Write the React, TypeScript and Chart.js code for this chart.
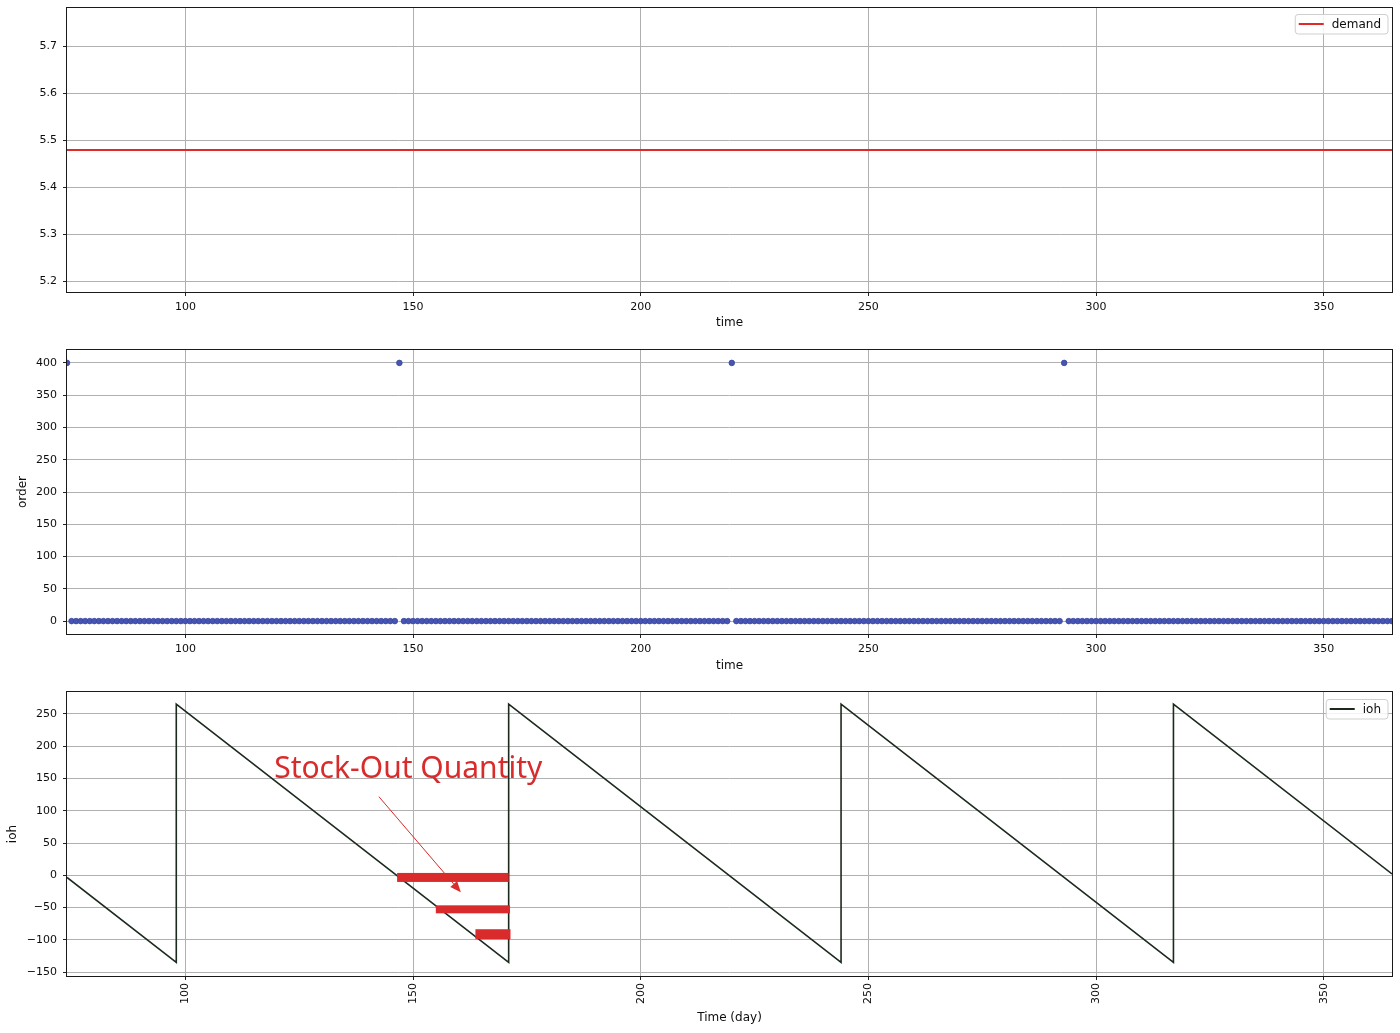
import React, { useEffect, useRef } from "react";
import { Chart, registerables } from "chart.js";

Chart.register(...registerables);
Chart.defaults.font.family = "'DejaVu Sans', sans-serif";

// ---------- data ----------
const dayMin = 74;
const dayMax = 365;
const xTickValues = [100, 150, 200, 250, 300, 350];

const demandDays = [74, 365];
const demandValues = [5.4795, 5.4795];
const demandTicks = [5.2, 5.3, 5.4, 5.5, 5.6, 5.7];

// order is 0 on every day except these
const orderDays = [74, 147, 220, 293];
const orderQuantities = [400, 400, 400, 400];
const orderTicks = [0, 50, 100, 150, 200, 250, 300, 350, 400];

const iohDays = [74, 98, 98, 171, 171, 244, 244, 317, 317, 365];
const iohValues = [-3.3, -134.8, 265.2, -134.8, 265.2, -134.8, 265.2, -134.8, 265.2, 2.2];
const iohTicks = [-150, -100, -50, 0, 50, 100, 150, 200, 250];

const stockOutLabel = "Stock-Out Quantity";
const stockOutBarFrom = [146.5, 155, 163.7];
const stockOutBarTo = [171, 171.3, 171.4];
const stockOutBarLevel = [-3.3, -52.7, -91.3];

// ---------- helpers ----------
const GRID = "#b0b0b0";
const TEXT = "#0d0d0d";

const allDays: number[] = [];
for (let d = dayMin; d <= dayMax; d++) allDays.push(d);
const orderPoints = allDays.map((d) => {
  const i = orderDays.indexOf(d);
  return { x: d, y: i >= 0 ? orderQuantities[i] : 0 };
});

function xScale(titleText: string, titlePad: number, axisH: number, rotate: boolean) {
  return {
    type: "linear",
    min: dayMin,
    max: dayMax,
    afterBuildTicks: (s: any) => {
      s.ticks = xTickValues.map((v) => ({ value: v }));
    },
    afterFit: (s: any) => {
      s.height = axisH;
      s.paddingLeft = 0;
      s.paddingRight = 0;
    },
    grid: { color: GRID, lineWidth: 1, tickColor: "#222", tickLength: 4, drawTicks: true },
    border: { display: false },
    ticks: {
      color: TEXT,
      font: { size: 11 },
      padding: rotate ? 3 : 5,
      autoSkip: false,
      maxRotation: rotate ? 90 : 0,
      minRotation: rotate ? 90 : 0,
      callback: (v: any) => String(v),
    },
    title: {
      display: true,
      text: titleText,
      color: TEXT,
      font: { size: 12 },
      padding: { top: 0, bottom: titlePad },
    },
  };
}

function yScale(
  min: number,
  max: number,
  ticks: number[],
  fmt: (v: number) => string,
  titleText: string | null,
  titlePad: number
) {
  return {
    type: "linear",
    min,
    max,
    afterBuildTicks: (s: any) => {
      s.ticks = ticks.map((v) => ({ value: v }));
    },
    afterFit: (s: any) => {
      s.width = 67;
      s.paddingTop = 0;
      s.paddingBottom = 0;
    },
    grid: { color: GRID, lineWidth: 1, tickColor: "#222", tickLength: 4, drawTicks: true },
    border: { display: false },
    ticks: { color: TEXT, font: { size: 11 }, padding: 6, callback: (v: any) => fmt(Number(v)) },
    title: titleText
      ? {
          display: true,
          text: titleText,
          color: TEXT,
          font: { size: 12 },
          padding: { top: titlePad, bottom: 0 },
        }
      : { display: false },
  };
}

const framePlugin = {
  id: "frame",
  afterDatasetsDraw(chart: any) {
    const { ctx, chartArea: a } = chart;
    ctx.save();
    ctx.strokeStyle = "#1a1a1a";
    ctx.lineWidth = 1;
    ctx.strokeRect(a.left - 0.5, a.top - 0.5, a.right - a.left + 1, a.bottom - a.top + 1);
    ctx.restore();
  },
};

function legendPlugin(offsetTop: number) {
  return {
    id: "miniLegend",
    afterDraw(chart: any) {
      const { ctx, chartArea: a } = chart;
      const ds = chart.data.datasets[0];
      ctx.save();
      ctx.font = "12px 'DejaVu Sans', sans-serif";
      const tw = ctx.measureText(ds.label).width;
      const w = 4 + 25 + 8 + tw + 7;
      const h = 20;
      const x0 = a.right - 4 - w;
      const y0 = a.top + offsetTop;
      ctx.fillStyle = "rgba(255,255,255,0.85)";
      ctx.strokeStyle = "#cfcfcf";
      ctx.lineWidth = 1;
      ctx.beginPath();
      const r = 3;
      ctx.moveTo(x0 + r, y0 + 0.5);
      ctx.arcTo(x0 + w, y0 + 0.5, x0 + w, y0 + h, r);
      ctx.arcTo(x0 + w, y0 + h, x0, y0 + h, r);
      ctx.arcTo(x0 + 0.5, y0 + h, x0 + 0.5, y0, r);
      ctx.arcTo(x0 + 0.5, y0 + 0.5, x0 + w, y0 + 0.5, r);
      ctx.closePath();
      ctx.fill();
      ctx.stroke();
      ctx.strokeStyle = ds.borderColor;
      ctx.lineWidth = 2;
      ctx.beginPath();
      ctx.moveTo(x0 + 4, y0 + h / 2);
      ctx.lineTo(x0 + 29, y0 + h / 2);
      ctx.stroke();
      ctx.fillStyle = TEXT;
      ctx.textBaseline = "middle";
      ctx.textAlign = "left";
      ctx.fillText(ds.label, x0 + 37, y0 + h / 2 + 0.5);
      ctx.restore();
    },
  };
}

const annotationPlugin = {
  id: "stockOut",
  afterDatasetsDraw(chart: any) {
    const { ctx } = chart;
    const xs = chart.scales.x;
    const ys = chart.scales.y;
    const red = "#d92b2b";
    ctx.save();
    // bars
    const thick = [9, 8, 10];
    ctx.fillStyle = red;
    for (let i = 0; i < stockOutBarLevel.length; i++) {
      const x0 = xs.getPixelForValue(stockOutBarFrom[i]);
      const x1 = xs.getPixelForValue(stockOutBarTo[i]);
      const yc = ys.getPixelForValue(stockOutBarLevel[i]);
      ctx.fillRect(x0, yc - thick[i] / 2, x1 - x0, thick[i]);
    }
    // arrow
    const p0x = xs.getPixelForValue(142.5);
    const p0y = ys.getPixelForValue(121.8);
    const p1x = xs.getPixelForValue(160.5);
    const p1y = ys.getPixelForValue(-26.4);
    const ang = Math.atan2(p1y - p0y, p1x - p0x);
    const hl = 11;
    const hw = 4.5;
    const bx = p1x - hl * Math.cos(ang);
    const by = p1y - hl * Math.sin(ang);
    ctx.strokeStyle = red;
    ctx.lineWidth = 1;
    ctx.beginPath();
    ctx.moveTo(p0x, p0y);
    ctx.lineTo(bx, by);
    ctx.stroke();
    ctx.beginPath();
    ctx.moveTo(p1x, p1y);
    ctx.lineTo(bx + hw * Math.sin(ang), by - hw * Math.cos(ang));
    ctx.lineTo(bx - hw * Math.sin(ang), by + hw * Math.cos(ang));
    ctx.closePath();
    ctx.fill();
    // label
    ctx.font = "30px 'Noto Sans', sans-serif";
    ctx.textAlign = "left";
    ctx.textBaseline = "middle";
    ctx.fillText(stockOutLabel, xs.getPixelForValue(119.5), ys.getPixelForValue(164));
    ctx.restore();
  },
};

function useChart(ref: React.RefObject<HTMLCanvasElement>, makeConfig: () => any) {
  useEffect(() => {
    if (!ref.current) return;
    const chart = new Chart(ref.current, makeConfig());
    return () => chart.destroy();
  }, []);
}

const commonPlugins = { legend: { display: false }, tooltip: { enabled: false } };

export default function App() {
  const c1 = useRef<HTMLCanvasElement>(null);
  const c2 = useRef<HTMLCanvasElement>(null);
  const c3 = useRef<HTMLCanvasElement>(null);

  useChart(c1, () => ({
    type: "line",
    data: {
      datasets: [
        {
          label: "demand",
          data: demandDays.map((d, i) => ({ x: d, y: demandValues[i] })),
          borderColor: "#e02a2a",
          borderWidth: 2,
          pointRadius: 0,
          fill: false,
        },
      ],
    },
    options: {
      animation: false,
      responsive: false,
      devicePixelRatio: 1,
      events: [],
      layout: { padding: { top: 8, right: 8, left: 0, bottom: 0 } },
      plugins: commonPlugins,
      scales: {
        x: xScale("time", 10, 48, false),
        y: yScale(5.178, 5.781, demandTicks, (v) => v.toFixed(1), null, 0),
      },
    },
    plugins: [framePlugin, legendPlugin(6)],
  }));

  useChart(c2, () => ({
    type: "scatter",
    data: {
      datasets: [
        {
          label: "order",
          data: orderPoints,
          backgroundColor: "#4655b4",
          borderColor: "#3a469e",
          borderWidth: 0.8,
          pointRadius: 2.8,
        },
      ],
    },
    options: {
      animation: false,
      responsive: false,
      devicePixelRatio: 1,
      events: [],
      layout: { padding: { top: 10, right: 8, left: 0, bottom: 0 } },
      plugins: commonPlugins,
      scales: {
        x: xScale("time", 7, 46, false),
        y: yScale(-20, 420, orderTicks, (v) => String(v), "order", 16),
      },
    },
    plugins: [framePlugin],
  }));

  useChart(c3, () => ({
    type: "line",
    data: {
      datasets: [
        {
          label: "ioh",
          data: iohDays.map((d, i) => ({ x: d, y: iohValues[i] })),
          borderColor: "#1c2a1e",
          borderWidth: 1.6,
          pointRadius: 0,
          fill: false,
          tension: 0,
        },
      ],
    },
    options: {
      animation: false,
      responsive: false,
      devicePixelRatio: 1,
      events: [],
      layout: { padding: { top: 12, right: 8, left: 0, bottom: 0 } },
      plugins: commonPlugins,
      scales: {
        x: xScale("Time (day)", 8, 57, true),
        y: yScale(-156, 284, iohTicks, (v) => (v < 0 ? "\u2212" + Math.abs(v) : String(v)), "ioh", 6),
      },
    },
    plugins: [framePlugin, annotationPlugin, legendPlugin(7)],
  }));

  return (
    <div style={{ position: "absolute", left: 0, top: 0, width: 1400, height: 1033, background: "#fff" }}>
      <canvas ref={c1} width={1400} height={340} style={{ position: "absolute", left: 0, top: 0 }} />
      <canvas ref={c2} width={1400} height={340} style={{ position: "absolute", left: 0, top: 340 }} />
      <canvas ref={c3} width={1400} height={353} style={{ position: "absolute", left: 0, top: 680 }} />
    </div>
  );
}
